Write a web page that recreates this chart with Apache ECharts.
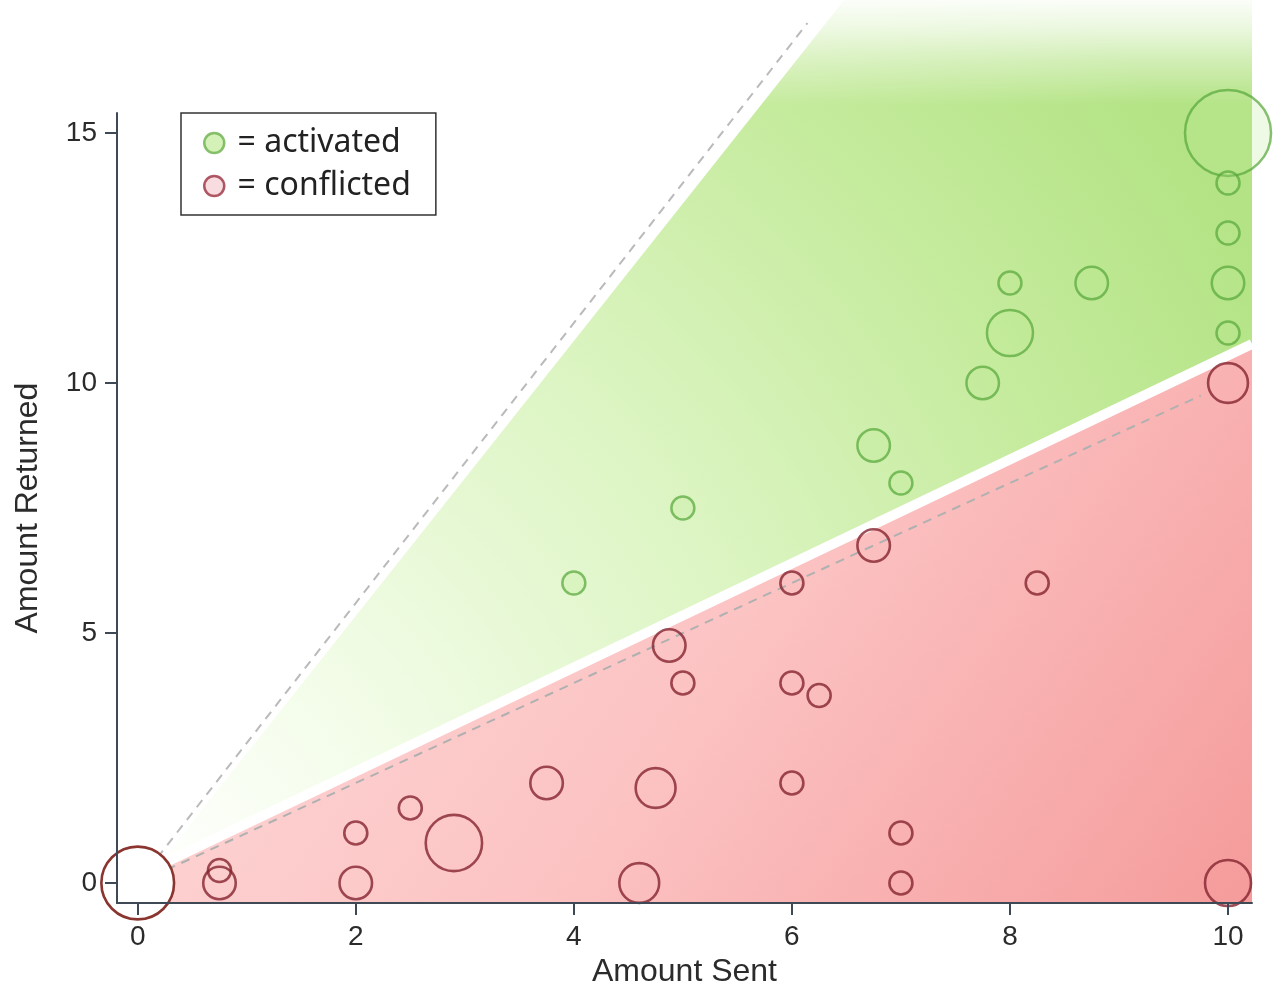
<!DOCTYPE html>
<html><head><meta charset="utf-8">
<script src="https://cdn.jsdelivr.net/npm/echarts@6/dist/echarts.min.js"></script>
<style>html,body{margin:0;padding:0;background:#fff}#c{width:1274px;height:992px}</style>
</head><body><div id="c"></div>
<script>
// ---- data ----
const xTicks = [0, 2, 4, 6, 8, 10];
const yTicks = [0, 5, 10, 15];
const activatedX = [10, 10, 10, 10, 10, 8, 8.75, 8, 7.75, 6.75, 7, 5, 4];
const activatedY = [15, 14, 13, 12, 11, 12, 12, 11, 10, 8.75, 8, 7.5, 6];
const activatedN = [14, 1, 1, 2, 1, 1, 2, 4, 2, 2, 1, 1, 1];
const conflictedX = [10, 6.75, 6, 8.25, 4.875, 5, 6, 6.25, 3.75, 4.75, 6, 2.5, 2.9, 2, 2, 7, 7, 4.6, 10, 0.75, 0.75, 0];
const conflictedY = [10, 6.75, 6, 6, 4.75, 4, 4, 3.75, 2, 1.9, 2, 1.5, 0.8, 1, 0, 1, 0, 0, 0, 0.25, 0, 0];
const conflictedN = [3, 2, 1, 1, 2, 1, 1, 1, 2, 3, 1, 1, 6, 1, 2, 1, 1, 3, 4, 1, 2, 10];
const breakEvenSlope = 1;      // dashed y = x
const tripleSlope = 2.8;       // upper dashed guide
const lowerZoneSlope = 1.04;   // red / green boundary
const lowerZoneOffset = 0.15;
const upperZoneSlope = 2.75;   // green upper boundary
const xRange = [-0.19, 10.22];
const yRange = [-0.4, 15.4];
const yDrawTop = 17.8;         // green zone extends above the frame and fades
const breakEvenEndX = 9.75;
const tripleEndY = 17.2;

// ---- chart ----
const chart = echarts.init(document.getElementById('c'), null, { renderer: 'canvas' });
const G = echarts.graphic;
const axisColor = '#3e4955';
const axisFont = "'Liberation Sans', Arial, sans-serif";

function polygonSeries(pts, fill, z) {
  return {
    type: 'custom', silent: true, clip: false, z: z,
    data: [[0, 0]],
    renderItem: (params, api) => ({
      type: 'polygon',
      shape: { points: pts.map(p => api.coord(p)) },
      style: { fill: fill }
    })
  };
}
function lineSeries(pts, style, z) {
  return {
    type: 'line', silent: true, clip: false, z: z, symbol: 'none',
    data: pts, lineStyle: style, animation: false
  };
}

const xR = xRange[1];
const lowAt = x => lowerZoneSlope * x + lowerZoneOffset;
const greenPts = [[0, lowAt(0)], [xR, lowAt(xR)], [xR, yDrawTop], [yDrawTop / upperZoneSlope, yDrawTop], [0, 0]];
const redPts = [[0, lowAt(0)], [xR, lowAt(xR)], [xR, yRange[0]], [0, yRange[0]]];

const greenFill = new G.RadialGradient(0, 1, 1.45, [
  { offset: 0, color: '#ffffff' },
  { offset: 0.18, color: '#f5fdec' },
  { offset: 0.5, color: '#ddf5c4' },
  { offset: 0.78, color: '#c5eb9d' },
  { offset: 1, color: '#b3e384' }
]);
const redFill = new G.LinearGradient(0.3, 0, 1, 1, [
  { offset: 0, color: '#fdd2d2' },
  { offset: 0.4, color: '#fcc3c3' },
  { offset: 1, color: '#f59b9b' }
]);
const fadeFill = new G.LinearGradient(0, 0, 0, 1, [
  { offset: 0, color: 'rgba(255,255,255,1)' },
  { offset: 0.3, color: 'rgba(255,255,255,0.75)' },
  { offset: 0.6, color: 'rgba(255,255,255,0.4)' },
  { offset: 1, color: 'rgba(255,255,255,0)' }
]);

const sizeOf = n => 23 * Math.sqrt(n);
const conflictedData = conflictedX.map((x, i) => [x, conflictedY[i], conflictedN[i]]);
const originData = conflictedData.filter(d => d[0] === 0 && d[1] === 0);
const otherConflicted = conflictedData.filter(d => !(d[0] === 0 && d[1] === 0));

const series = [
  polygonSeries(redPts, redFill, 1),
  polygonSeries(greenPts, greenFill, 1),
  polygonSeries([[4, yDrawTop], [xR + 0.1, yDrawTop], [xR + 0.1, 15.55], [4, 15.55]], fadeFill, 2),
  lineSeries([[0, lowAt(0)], [xR, lowAt(xR)]], { color: '#ffffff', width: 10 }, 2),
  lineSeries([[0, 0], [yDrawTop / upperZoneSlope, yDrawTop]], { color: '#ffffff', width: 10 }, 2),
  lineSeries([[0, 0], [breakEvenEndX, breakEvenSlope * breakEvenEndX]], { color: '#b0b0b0', width: 2, type: [9, 7] }, 3),
  lineSeries([[0, 0], [tripleEndY / tripleSlope, tripleEndY]], { color: '#bababa', width: 2, type: [9, 7] }, 3),
  {
    type: 'scatter', name: 'activated', z: 4, clip: false,
    data: activatedX.map((x, i) => [x, activatedY[i], activatedN[i]]),
    symbolSize: v => sizeOf(v[2]),
    itemStyle: { color: 'rgba(190,235,150,0.3)', borderColor: 'rgba(88,168,60,0.9)', borderWidth: 2.5 }
  },
  {
    type: 'scatter', name: 'conflicted', z: 4, clip: false,
    data: otherConflicted,
    symbolSize: v => sizeOf(v[2]),
    itemStyle: { color: 'rgba(255,255,255,0)', borderColor: '#842430', borderWidth: 2.6 }
  },
  {
    type: 'scatter', name: 'origin', z: 5, clip: false, silent: true,
    data: originData,
    symbol: 'circle',
    symbolSize: v => sizeOf(v[2]),
    itemStyle: { color: '#ffffff', opacity: 1, borderColor: '#8a3530', borderWidth: 2.6 }
  }
];

chart.setOption({
  animation: false,
  backgroundColor: '#ffffff',
  grid: { left: 117, right: 22, top: 113, bottom: 89, containLabel: false, outerBoundsMode: 'none' },
  legend: {
    orient: 'vertical', left: 181, top: 113, z: 20,
    data: [
      { name: 'activated', icon: 'circle', itemStyle: { color: '#c9eea5', borderColor: '#6ab04c', borderWidth: 2.5 } },
      { name: 'conflicted', icon: 'circle', itemStyle: { color: '#f6d3d8', borderColor: '#9a2f40', borderWidth: 2.5 } }
    ],
    formatter: n => ' = ' + n,
    itemWidth: 20, itemHeight: 20, itemGap: 11,
    padding: [14, 25, 13, 22],
    borderColor: '#333', borderWidth: 1.5, backgroundColor: '#fff',
    textStyle: { fontFamily: "'Noto Sans', 'Open Sans', sans-serif", fontSize: 32, color: '#222' },
    selectedMode: false
  },
  xAxis: {
    type: 'value', min: xRange[0], max: xRange[1], z: 10,
    axisLine: { show: true, onZero: false, lineStyle: { color: axisColor, width: 2 } },
    axisTick: { show: true, length: 12, customValues: xTicks, lineStyle: { color: axisColor, width: 2 } },
    axisLabel: { customValues: xTicks, fontSize: 28, color: '#2b2b2b', margin: 20, fontFamily: axisFont },
    splitLine: { show: false },
    name: 'Amount Sent', nameLocation: 'middle', nameGap: 53,
    nameTextStyle: { fontSize: 32, color: '#2b2b2b', fontFamily: axisFont }
  },
  yAxis: {
    type: 'value', min: yRange[0], max: yRange[1], z: 10,
    axisLine: { show: true, onZero: false, lineStyle: { color: axisColor, width: 2 } },
    axisTick: { show: true, length: 12, customValues: yTicks, lineStyle: { color: axisColor, width: 2 } },
    axisLabel: { customValues: yTicks, fontSize: 28, color: '#2b2b2b', margin: 20, fontFamily: axisFont },
    splitLine: { show: false },
    name: 'Amount Returned', nameLocation: 'middle', nameGap: 73,
    nameTextStyle: { fontSize: 32, color: '#2b2b2b', fontFamily: axisFont }
  },
  series: series
});
</script></body></html>
